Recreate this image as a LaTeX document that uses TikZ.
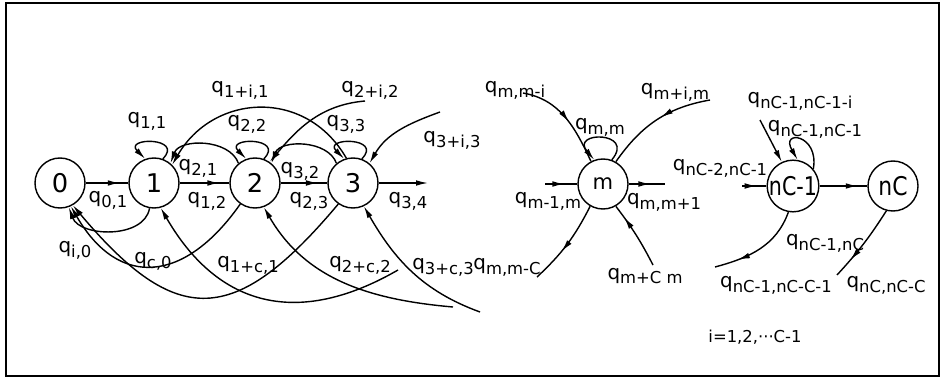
\documentclass[tikz,border=0pt]{standalone}
\usepackage{fontspec}
\setmainfont{DejaVu Sans}
\usepackage{graphicx}
\usetikzlibrary{arrows.meta,decorations.markings}
\newcommand{\qlab}[1]{q\raisebox{-0.45ex}{\fontsize{14}{14}\selectfont #1}}

\begin{document}
\begin{tikzpicture}[x=0.03cm,y=0.03cm,font=\fontsize{17}{19}\selectfont,line width=1.2pt,
  >={Latex[length=3.6mm,width=1.7mm]},
  state/.style={draw,circle,minimum size=1.5cm,inner sep=0pt,font=\fontsize{22}{24}\selectfont},
  arr/.style={->},
  midarr/.style={postaction={decorate,decoration={markings,mark=at position #1 with {\arrow{>}}}}},
  midarr/.default=0.75]
 \useasboundingbox (0,0) rectangle (944,383);
 \draw[line width=2.4pt] (6,7) rectangle (939,380);
 % states
 \node[state] (s0) at (60,200) {0};
 \node[state] (s1) at (154,200) {1};
 \node[state] (s2) at (255,200) {2};
 \node[state] (s3) at (353,200) {3};
 \node[state,font=\fontsize{18}{20}\selectfont] (sm) at (603,199) {m};
 \node[state] (sn1) at (793,197) {\scalebox{0.8}[1]{nC-1}};
 \node[state] (snc) at (893,197) {\scalebox{0.85}[1]{nC}};
 % free ends
 \coordinate (o3) at (428,200);
 \coordinate (f22) at (365,282);
 \coordinate (f33) at (440,271);
 \coordinate (f1c) at (398,113);
 \coordinate (f2c) at (453,76);
 \coordinate (f3c) at (480,71);
 \coordinate (fm1) at (545,199);
 \coordinate (fm2) at (665,199);
 \coordinate (fmi) at (523,290);
 \coordinate (fim) at (710,283);
 \coordinate (fmc) at (537,106);
 \coordinate (fcm) at (653,118);
 \coordinate (fn2) at (742,197);
 \coordinate (fni) at (760,263);
 \coordinate (fnc1) at (715,116);
 \coordinate (fcc) at (837,108);
 % forward chain
 \draw[midarr=0.8] (s0) -- (s1);
 \draw[midarr=0.8] (s1) -- (s2);
 \draw[midarr=0.8] (s2) -- (s3);
 \draw[arr] (s3) -- (o3);
 % self loops
 \draw[arr] (s1.70) to[out=45,in=135,looseness=4.5] (s1.110);
 \draw[arr] (s2.70) to[out=45,in=135,looseness=4.5] (s2.110);
 \draw[arr] (s3.70) to[out=45,in=135,looseness=4.5] (s3.110);
 % upper arcs
 \draw[arr] (s2.130) to[out=110,in=70] (s1.50);
 \draw[arr] (s3.130) to[out=110,in=70] (s2.50);
 \draw[arr] (s3.105) to[out=120,in=60,looseness=1.2] (s1.45);
 \draw[arr] (f22) to[out=185,in=50] (s2.55);
 \draw[arr] (f33) to[out=200,in=60] (s3.50);
 % lower arcs
 \draw[arr] (s1.-100) to[out=-100,in=-70] (s0.-70);
 \draw[arr] (s2.-125) to[out=-125,in=-60,looseness=1.45] (s0.-65);
 \draw[arr] (s3.-125) to[out=-130,in=-50,looseness=1.55] (s0.-60);
 \draw[arr] (f1c) to[out=-150,in=-60,looseness=1.2] (s1.-75);
 \draw[arr] (f2c) to[out=175,in=-60] (s2.-70);
 \draw[arr] (f3c) to[out=160,in=-60] (s3.-65);
 % state m
 \draw[midarr=0.6] (fm1) -- (sm);
 \draw[midarr=0.6] (sm) -- (fm2);
 \draw[arr] (sm.70) to[out=50,in=130,looseness=5.5] (sm.110);
 \draw[midarr=0.55] (fmi) to[out=-10,in=115] (sm.118);
 \draw[midarr=0.45] (fim) to[out=190,in=55] (sm.60);
 \draw[midarr=0.6] (sm.-120) to[bend left=10] (fmc);
 \draw[midarr=0.8] (fcm) to[bend right=5] (sm.-60);
 % states nC-1 and nC
 \draw[midarr=0.6] (fn2) -- (sn1);
 \draw[midarr=0.8] (sn1) -- (snc);
 \draw[arr] (sn1.40) to[out=80,in=120,looseness=5] (sn1.80);
 \draw[arr] (fni) -- (sn1.115);
 \draw[midarr=0.75] (sn1.-100) to[out=-110,in=15] (fnc1);
 \draw[midarr=0.75] (snc.-105) to[bend left=5] (fcc);
 % labels
 \node (l01) at (108,183) {\qlab{0,1}};
 \node (l21) at (198,215) {\qlab{2,1}};
 \node (l12) at (207,182) {\qlab{1,2}};
 \node (l32) at (300,212) {\qlab{3,2}};
 \node (l23) at (309,182) {\qlab{2,3}};
 \node (l34) at (408,182) {\qlab{3,4}};
 \node (l11) at (147,262) {\qlab{1,1}};
 \node (l22) at (247,259) {\qlab{2,2}};
 \node (l33) at (346,259) {\qlab{3,3}};
 \node (l1i) at (240,293) {\qlab{1+i,1}};
 \node (l2i) at (370,293) {\qlab{2+i,2}};
 \node (l3i) at (452,243) {\qlab{3+i,3}};
 \node (li0) at (75,133) {\qlab{i,0}};
 \node (lc0) at (153,122) {\qlab{c,0}};
 \node (l1c) at (248,118) {\qlab{1+c,1}};
 \node (l2c) at (360,118) {\qlab{2+c,2}};
 \node (l3c) at (443,116) {\qlab{3+c,3}};
 \node (lm1) at (548,182) {\qlab{m-1,m}};
 \node (lm2) at (664,181) {\qlab{m,m+1}};
 \node (lmm) at (600,256) {\qlab{m,m}};
 \node (lmi) at (515,293) {\qlab{m,m-i}};
 \node (lim) at (675,291) {\qlab{m+i,m}};
 \node (lmc) at (507,116) {\qlab{m,m-C}};
 \node (lcm) at (645,107) {\qlab{m+C m}};
 \node (ln2) at (720,215) {\qlab{nC-2,nC-1}};
 \node (lni) at (800,282) {\qlab{nC-1,nC-1-i}};
 \node (lnn) at (815,254) {\qlab{nC-1,nC-1}};
 \node (lnc) at (825,140) {\qlab{nC-1,nC}};
 \node (lnc1) at (776,98) {\qlab{nC-1,nC-C-1}};
 \node (lcc) at (886,98) {\qlab{nC,nC-C}};
 \node[font=\fontsize{14}{16}\selectfont] (note) at (755,46) {i=1,2,···C-1};
\end{tikzpicture}
\end{document}
